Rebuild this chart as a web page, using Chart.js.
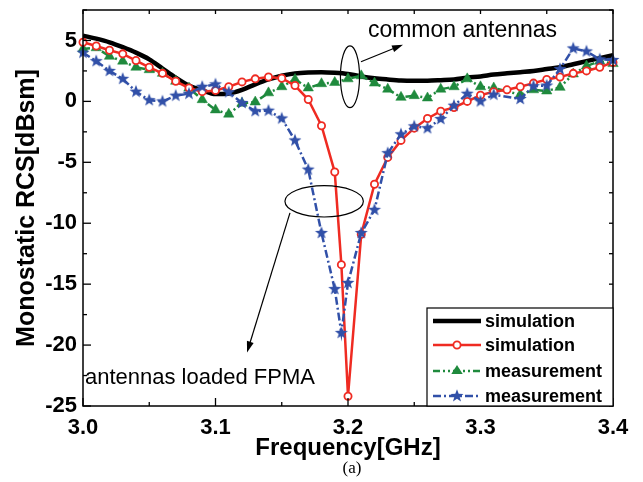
<!DOCTYPE html>
<html><head><meta charset="utf-8">
<script src="https://cdn.jsdelivr.net/npm/chart.js@4.4.1/dist/chart.umd.min.js"></script>
<style>html,body{margin:0;padding:0;background:#fff;}#wrap{width:643px;height:482px;}</style>
</head><body><div id="wrap"><canvas id="c" width="643" height="482"></canvas></div>
<script>
// ---------- data ----------
const simCommonFreq = [3.00,3.01,3.02,3.03,3.04,3.05,3.06,3.07,3.08,3.09,3.10,3.11,3.12,3.13,3.14,3.15,3.16,3.17,3.18,3.19,3.20,3.21,3.22,3.23,3.24,3.25,3.26,3.27,3.28,3.29,3.30,3.31,3.32,3.33,3.34,3.35,3.36,3.37,3.38,3.39,3.40];
const simCommon = [5.4,5.15,4.85,4.45,4.0,3.45,2.7,1.95,1.3,0.9,0.6,0.65,0.95,1.4,1.8,2.1,2.3,2.38,2.4,2.35,2.25,2.05,1.9,1.8,1.72,1.7,1.7,1.74,1.8,1.95,2.05,2.2,2.3,2.4,2.5,2.65,2.8,3.05,3.3,3.55,3.8];

const simFpmaFreq = [3.00,3.01,3.02,3.03,3.04,3.05,3.06,3.07,3.08,3.09,3.10,3.11,3.12,3.13,3.14,3.15,3.16,3.17,3.18,3.19,3.195,3.20,3.21,3.22,3.23,3.24,3.25,3.26,3.27,3.28,3.29,3.30,3.31,3.32,3.33,3.34,3.35,3.36,3.37,3.38,3.39,3.40];
const simFpma = [4.85,4.55,4.2,3.9,3.35,2.8,2.3,1.65,1.1,0.8,0.9,1.2,1.6,1.85,2.0,1.9,1.3,0.15,-2.0,-5.8,-13.4,-24.2,-10.9,-6.8,-4.6,-3.2,-2.2,-1.4,-0.8,-0.5,0.0,0.5,0.8,0.95,1.2,1.5,1.8,2.0,2.3,2.5,2.8,3.2];

const measCommonFreq = [3.00,3.01,3.02,3.03,3.04,3.05,3.06,3.07,3.08,3.09,3.10,3.11,3.12,3.13,3.14,3.15,3.16,3.17,3.18,3.19,3.20,3.21,3.22,3.23,3.24,3.25,3.26,3.27,3.28,3.29,3.30,3.31,3.33,3.34,3.35,3.36,3.37,3.38,3.39,3.40];
const measCommon = [4.3,4.4,3.7,3.3,2.8,2.6,2.3,1.65,1.1,0.14,-0.7,-1.05,-0.15,-0.05,0.7,1.2,1.8,1.1,1.45,1.55,1.85,2.1,1.5,1.0,0.33,0.47,0.28,1.0,1.2,1.85,1.2,1.1,0.55,0.95,0.85,1.15,2.25,2.9,3.3,3.1];

const measFpmaFreq = [3.00,3.01,3.02,3.03,3.04,3.05,3.06,3.07,3.08,3.09,3.10,3.11,3.12,3.13,3.14,3.15,3.16,3.17,3.18,3.19,3.195,3.20,3.21,3.22,3.23,3.24,3.25,3.26,3.27,3.28,3.29,3.30,3.31,3.33,3.34,3.35,3.36,3.37,3.38,3.39,3.40];
const measFpma = [4.0,3.3,2.5,1.85,0.8,0.1,0.0,0.47,0.63,1.2,1.4,0.75,-0.13,-0.8,-0.76,-1.4,-3.2,-5.6,-10.8,-15.4,-19.0,-14.9,-10.8,-8.9,-4.25,-2.7,-2.05,-2.2,-1.45,-0.35,0.63,0.0,0.55,0.2,1.25,1.3,2.65,4.35,4.1,3.45,3.4];

const seriesLabels = ['simulation','simulation','measurement','measurement'];
const xTickLabels = ['3.0','3.1','3.2','3.3','3.4'];
const yTickLabels = ['-25','-20','-15','-10','-5','0','5'];

// ---------- styles ----------
const BLACK='#000000', RED='#ef2b22', GREEN='#1f8a3d', BLUE='#3150a8';
const FONT="'Liberation Sans', Arial, sans-serif";

function makeStar(r, color){
  const s = Math.ceil(r*2)+2;
  const cv = document.createElement('canvas'); cv.width=s; cv.height=s;
  const g = cv.getContext('2d'); g.fillStyle=color; g.beginPath();
  for(let i=0;i<10;i++){const a=-Math.PI/2+i*Math.PI/5; const rr=i%2? r*0.42 : r; g.lineTo(s/2+rr*Math.cos(a), s/2+rr*Math.sin(a));}
  g.closePath(); g.fill(); return cv;
}
const starImg = makeStar(6.8, BLUE);

const pts = (fs, vs) => fs.map((f,i)=>({x:f,y:vs[i]}));

const annotations = {
  ell1:{f:3.2015, v:2.02, rf:0.0072, rv:2.54},
  arr1:{f0:3.2098, v0:3.25, f1:3.2415, v1:4.65},
  txt1:{text:'common antennas', f:3.215, v:5.25},
  ell2:{f:3.182, v:-8.2, rf:0.0296, rv:1.29},
  arr2:{f0:3.1562, v0:-9.15, f1:3.1238, v1:-20.6},
  txt2:{text:'antennas loaded FPMA', f:3.0015, v:-23.2}
};

const decor = {
  id:'decor',
  afterDraw(chart){
    const {ctx, chartArea:a, scales:{x,y}} = chart;
    const X=v=>x.getPixelForValue(v), Y=v=>y.getPixelForValue(v);
    ctx.save();
    ctx.strokeStyle='#000'; ctx.lineWidth=1.5; ctx.setLineDash([]);
    ctx.strokeRect(a.left, a.top, a.right-a.left, a.bottom-a.top);
    const line=(x0,y0,x1,y1)=>{ctx.beginPath();ctx.moveTo(x0,y0);ctx.lineTo(x1,y1);ctx.stroke();};
    ctx.lineWidth=1.3;
    x.ticks.forEach(t=>{const px=X(t.value); const L=t.label!==''?8:4; line(px,a.bottom,px,a.bottom-L); line(px,a.top,px,a.top+4);});
    y.ticks.forEach(t=>{const py=Y(t.value); const L=t.label!==''?8:4; line(a.left,py,a.left+L,py); line(a.right,py,a.right-4,py);});
    ctx.lineWidth=1.2;
    const e1=annotations.ell1;
    ctx.beginPath(); ctx.ellipse(X(e1.f),Y(e1.v),Math.abs(X(e1.f+e1.rf)-X(e1.f)),Math.abs(Y(e1.v+e1.rv)-Y(e1.v)),0,0,Math.PI*2); ctx.stroke();
    const e2=annotations.ell2;
    ctx.beginPath(); ctx.ellipse(X(e2.f),Y(e2.v),Math.abs(X(e2.f+e2.rf)-X(e2.f)),Math.abs(Y(e2.v+e2.rv)-Y(e2.v)),0,0,Math.PI*2); ctx.stroke();
    const arrow=(ar)=>{
      const x0=X(ar.f0),y0=Y(ar.v0),x1=X(ar.f1),y1=Y(ar.v1);
      const ang=Math.atan2(y1-y0,x1-x0), hl=11, hw=3.5;
      line(x0,y0,x1-Math.cos(ang)*hl*0.8,y1-Math.sin(ang)*hl*0.8);
      ctx.beginPath(); ctx.moveTo(x1,y1);
      ctx.lineTo(x1-Math.cos(ang)*hl-Math.sin(ang)*hw, y1-Math.sin(ang)*hl+Math.cos(ang)*hw);
      ctx.lineTo(x1-Math.cos(ang)*hl+Math.sin(ang)*hw, y1-Math.sin(ang)*hl-Math.cos(ang)*hw);
      ctx.closePath(); ctx.fillStyle='#000'; ctx.fill();
    };
    arrow(annotations.arr1); arrow(annotations.arr2);
    ctx.fillStyle='#000'; ctx.textBaseline='alphabetic'; ctx.textAlign='left';
    ctx.font='23px '+FONT;
    ctx.fillText(annotations.txt1.text, X(annotations.txt1.f), Y(annotations.txt1.v));
    ctx.font='22px '+FONT;
    ctx.fillText(annotations.txt2.text, X(annotations.txt2.f), Y(annotations.txt2.v));
    const lw=186, lh=98, lx=a.right-lw, ly=a.bottom-lh;
    ctx.fillStyle='#fff'; ctx.fillRect(lx,ly,lw,lh);
    ctx.strokeStyle='#000'; ctx.lineWidth=1.2; ctx.strokeRect(lx,ly,lw,lh);
    const rows=[13,37,63,88];
    chart.data.datasets.forEach((ds,i)=>{
      const ry=ly+rows[i], x0=lx+6, x1=lx+54, xm=(x0+x1)/2;
      ctx.strokeStyle=ds.borderColor; ctx.lineWidth=ds.borderWidth; ctx.setLineDash(ds.borderDash||[]);
      line(x0,ry,x1,ry); ctx.setLineDash([]);
      if(ds.pointRadius>0){
        if(ds.pointStyle==='circle'){ctx.beginPath();ctx.arc(xm,ry,ds.pointRadius,0,Math.PI*2);ctx.fillStyle=ds.pointBackgroundColor;ctx.fill();ctx.lineWidth=ds.pointBorderWidth;ctx.strokeStyle=ds.pointBorderColor;ctx.stroke();}
        else if(ds.pointStyle==='triangle'){const r=ds.pointRadius;ctx.beginPath();ctx.moveTo(xm,ry-r);ctx.lineTo(xm+r*0.866*1.1,ry+r*0.5);ctx.lineTo(xm-r*0.866*1.1,ry+r*0.5);ctx.closePath();ctx.fillStyle=ds.pointBackgroundColor;ctx.fill();}
        else {ctx.drawImage(ds.pointStyle, xm-ds.pointStyle.width/2, ry-ds.pointStyle.height/2);}
      }
      ctx.fillStyle='#000'; ctx.font='bold 18px '+FONT; ctx.textBaseline='middle'; ctx.textAlign='left';
      ctx.fillText(ds.label, lx+58, ry+1);
    });
    ctx.font='17px "Liberation Serif", serif'; ctx.textAlign='center'; ctx.textBaseline='middle';
    ctx.fillText('(a)', (a.left+a.right)/2+4, 469);
    ctx.restore();
  }
};

new Chart(document.getElementById('c'), {
  type:'line',
  data:{datasets:[
    {label:seriesLabels[0], data:pts(simCommonFreq,simCommon), borderColor:BLACK, borderWidth:4.5, pointRadius:0, cubicInterpolationMode:'monotone', order:4},
    {label:seriesLabels[1], data:pts(simFpmaFreq,simFpma), borderColor:RED, borderWidth:2.5, pointStyle:'circle', pointRadius:3.6, pointBackgroundColor:'#fff', pointBorderColor:RED, pointBorderWidth:1.8, tension:0, order:2, clip:7},
    {label:seriesLabels[2], data:pts(measCommonFreq,measCommon), borderColor:GREEN, borderWidth:2.5, borderDash:[7,3,2,3,2,3], pointStyle:'triangle', pointRadius:6, pointBackgroundColor:GREEN, pointBorderColor:GREEN, pointBorderWidth:0.5, tension:0, order:3, clip:7},
    {label:seriesLabels[3], data:pts(measFpmaFreq,measFpma), borderColor:BLUE, borderWidth:2.5, borderDash:[8,3,2,3], pointStyle:starImg, pointRadius:6.8, pointBackgroundColor:BLUE, pointBorderColor:BLUE, tension:0, order:1, clip:7}
  ]},
  options:{
    responsive:false, animation:false, devicePixelRatio:1,
    layout:{padding:{left:0,right:30,top:10,bottom:0}},
    plugins:{legend:{display:false}, tooltip:{enabled:false}},
    scales:{
      x:{type:'linear', min:3.0, max:3.4,
        grid:{display:false, drawTicks:false}, border:{display:false},
        ticks:{stepSize:0.05, autoSkip:false, maxRotation:0, padding:9, color:'#000', font:{family:FONT, size:22, weight:'bold'},
          callback:v=>{const k=Math.round(v*100); return k%10===0 ? xTickLabels[(k-300)/10] : '';}},
        title:{display:true, text:'Frequency[GHz]', color:'#000', font:{family:FONT, size:24, weight:'bold', lineHeight:1}, padding:{top:0,bottom:22}},
        afterFit:s=>{s.height=76; s.paddingLeft=0; s.paddingRight=0;}
      },
      y:{min:-25, max:7.5,
        grid:{display:false, drawTicks:false}, border:{display:false},
        ticks:{stepSize:2.5, autoSkip:false, padding:6, color:'#000', font:{family:FONT, size:22, weight:'bold'},
          callback:v=>{const k=Math.round(v*10); return k%50===0 ? yTickLabels[(k+250)/50] : '';}},
        title:{display:true, text:'Monostatic RCS[dBsm]', color:'#000', font:{family:FONT, size:25, weight:'bold', lineHeight:1}, padding:{top:15,bottom:0}},
        afterFit:s=>{s.width=83; s.paddingTop=0; s.paddingBottom=0;}
      }
    }
  },
  plugins:[decor]
});
</script></body></html>
